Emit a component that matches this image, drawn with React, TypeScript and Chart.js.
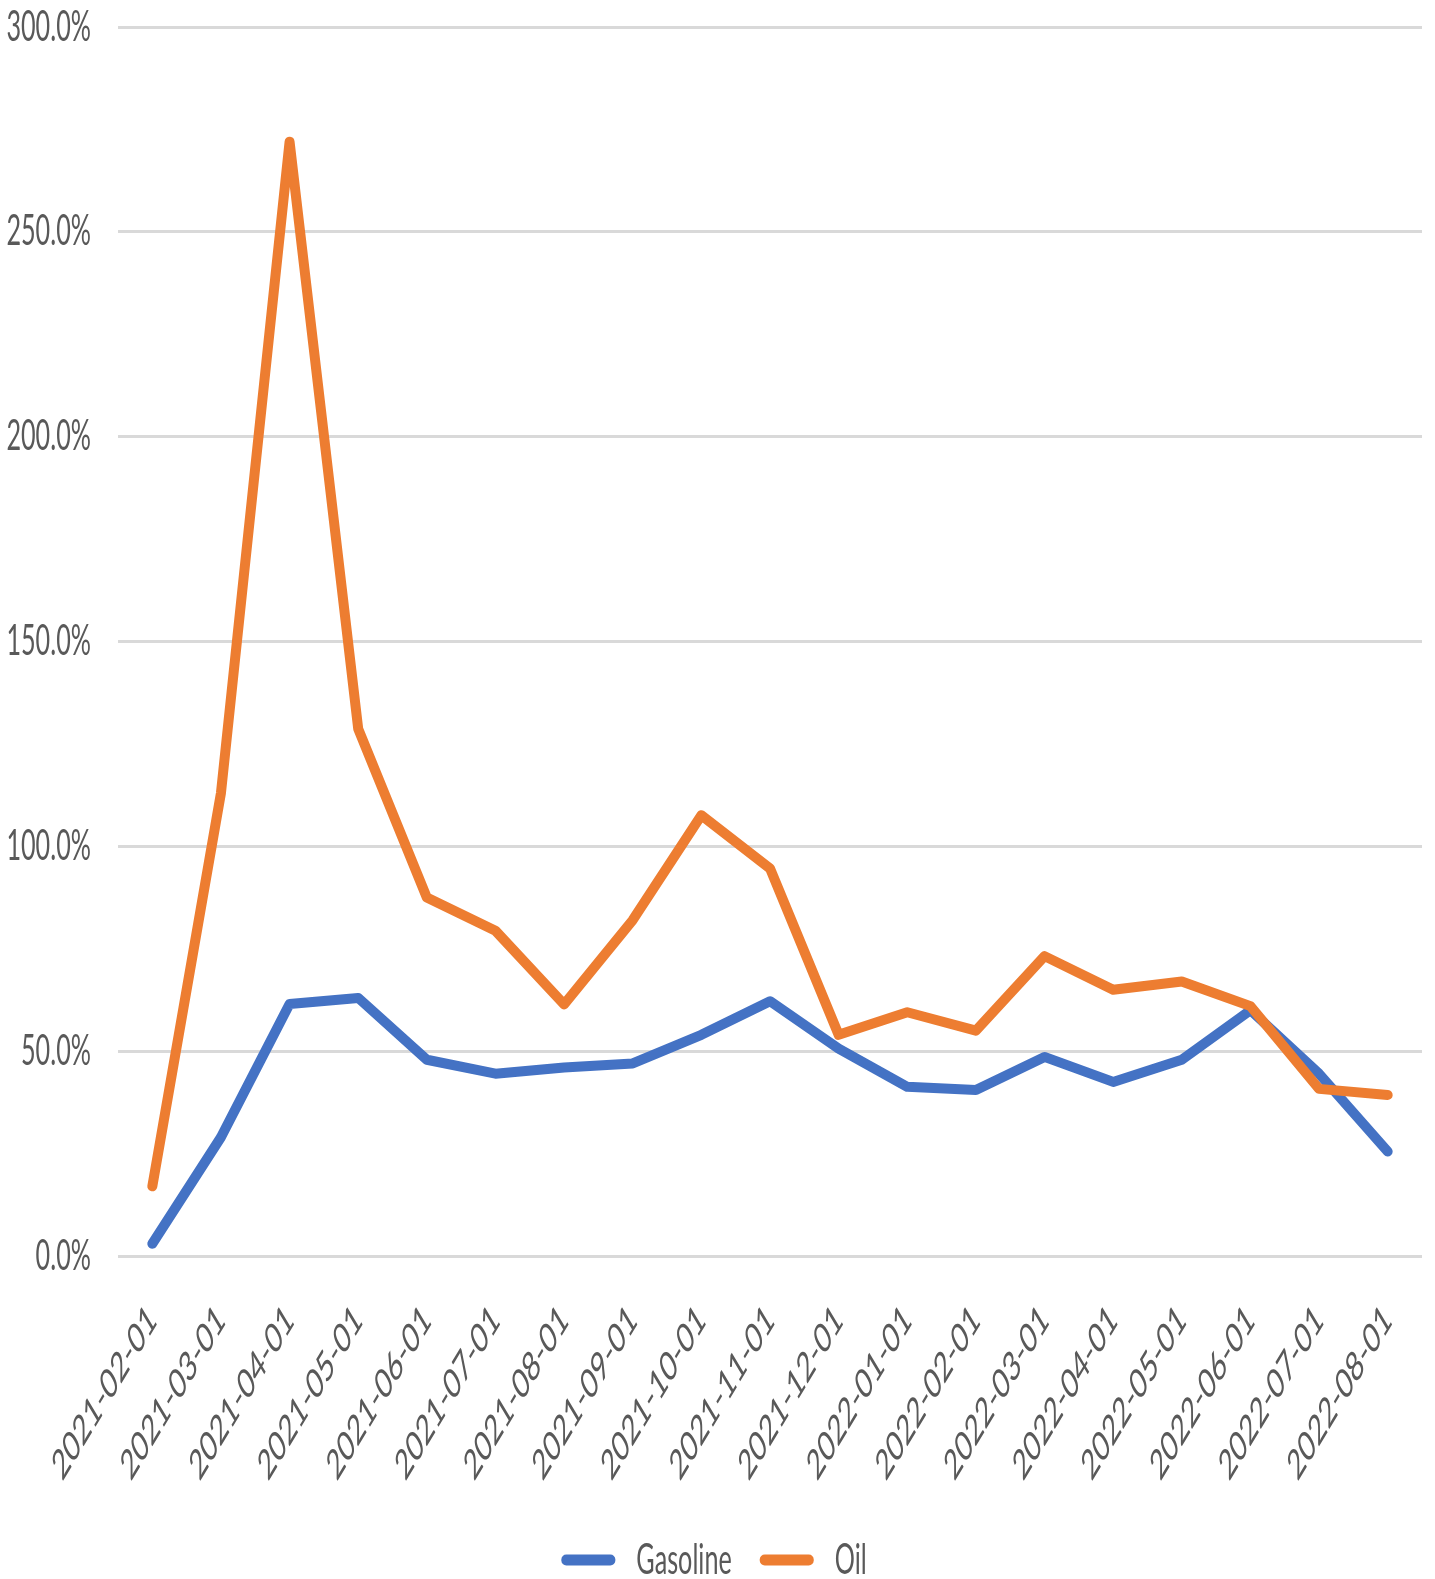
import React, { useEffect, useRef } from 'react';
import { Chart, registerables } from 'chart.js';

Chart.register(...registerables);

const categories = [
  '2021-02-01', '2021-03-01', '2021-04-01', '2021-05-01', '2021-06-01', '2021-07-01',
  '2021-08-01', '2021-09-01', '2021-10-01', '2021-11-01', '2021-12-01', '2022-01-01',
  '2022-02-01', '2022-03-01', '2022-04-01', '2022-05-01', '2022-06-01', '2022-07-01',
  '2022-08-01',
];

const gasoline = [3, 29, 61.5, 63, 47.9, 44.5, 46, 47, 54, 62.2, 50.6, 41.3, 40.5, 48.6, 42.5, 47.9, 60, 44.5, 25.5];
const oil = [17, 113, 272, 128.7, 87.5, 79.4, 61.4, 82, 107.6, 94.6, 54, 59.5, 55, 73.2, 65, 67, 61, 40.8, 39.3];

const seriesNames = ['Gasoline', 'Oil'];
const seriesColors = ['#4472C4', '#ED7D31'];

const yMin = 0;
const yMax = 300;
const yStep = 50;

const SX = 0.6; // horizontal condensing of text glyphs

function condenseText(ctx: any) {
  const origFill = ctx.fillText.bind(ctx);
  const origMeasure = ctx.measureText.bind(ctx);
  ctx.measureText = (t: string) => {
    const m = origMeasure(t);
    return {
      width: m.width * SX,
      actualBoundingBoxAscent: m.actualBoundingBoxAscent,
      actualBoundingBoxDescent: m.actualBoundingBoxDescent,
      actualBoundingBoxLeft: m.actualBoundingBoxLeft * SX,
      actualBoundingBoxRight: m.actualBoundingBoxRight * SX,
    };
  };
  ctx.fillText = (t: string, x: number, y: number, mw?: number) => {
    const T = ctx.getTransform();
    const p = T.transformPoint(new DOMPoint(x, y));
    ctx.save();
    const N = new DOMMatrix()
      .translate(p.x, p.y)
      .scale(SX, 1)
      .multiply(new DOMMatrix([T.a, T.b, T.c, T.d, 0, 0]));
    ctx.setTransform(N);
    if (mw === undefined || mw === null) origFill(t, 0, 0);
    else origFill(t, 0, 0, mw / SX);
    ctx.restore();
  };
}

export default function App() {
  const ref = useRef<HTMLCanvasElement | null>(null);

  useEffect(() => {
    const canvas = ref.current!;
    const ctx = canvas.getContext('2d')!;
    condenseText(ctx);
    const font = { family: 'Lato', size: 42 };
    const chart = new Chart(ctx, {
      type: 'line',
      data: {
        labels: categories,
        datasets: [
          {
            label: seriesNames[0],
            data: gasoline,
            borderColor: seriesColors[0],
            backgroundColor: seriesColors[0],
            borderWidth: 10,
            pointRadius: 0,
            borderCapStyle: 'round',
            borderJoinStyle: 'round',
            tension: 0,
            order: 2,
          },
          {
            label: seriesNames[1],
            data: oil,
            borderColor: seriesColors[1],
            backgroundColor: seriesColors[1],
            borderWidth: 10,
            pointRadius: 0,
            borderCapStyle: 'round',
            borderJoinStyle: 'round',
            tension: 0,
            order: 1,
          },
        ],
      },
      options: {
        animation: false,
        responsive: false,
        devicePixelRatio: 1,
        layout: { padding: { top: 27, right: 13, bottom: -12, left: 6 } },
        plugins: {
          tooltip: { enabled: false },
          legend: {
            position: 'bottom',
            labels: {
              font,
              color: '#595959',
              boxWidth: 54,
              boxHeight: 11,
              padding: 28,
              useBorderRadius: true,
              borderRadius: 5,
              generateLabels: (c: any) =>
                c.data.datasets.map((d: any, i: number) => ({
                  text: d.label,
                  fillStyle: d.borderColor,
                  strokeStyle: d.borderColor,
                  lineWidth: 0,
                  hidden: false,
                  datasetIndex: i,
                  borderRadius: 5,
                  fontColor: '#595959',
                })),
            },
          },
        },
        scales: {
          x: {
            type: 'category',
            offset: true,
            grid: { display: false, drawTicks: false },
            border: { display: false },
            ticks: {
              font,
              color: '#595959',
              minRotation: 45,
              maxRotation: 45,
              autoSkip: false,
              padding: 39,
            },
            afterFit: (s: any) => {
              s.height = 255;
              s.paddingLeft = 0;
              s.paddingRight = 0;
            },
          },
          y: {
            min: yMin,
            max: yMax,
            grid: { color: '#D9D9D9', lineWidth: 3, drawTicks: false },
            border: { display: false },
            ticks: {
              stepSize: yStep,
              font,
              color: '#595959',
              padding: 27,
              callback: (v: any) => Number(v).toFixed(1) + '%',
            },
            afterFit: (s: any) => {
              s.width = 112;
              s.paddingTop = 0;
              s.paddingBottom = 0;
            },
          },
        },
      } as any,
    });
    return () => chart.destroy();
  }, []);

  return (
    <div style={{ position: 'absolute', left: 0, top: 0, width: 1435, height: 1579, background: '#fff' }}>
      <canvas ref={ref} width={1435} height={1579} style={{ display: 'block', width: 1435, height: 1579 }} />
    </div>
  );
}
